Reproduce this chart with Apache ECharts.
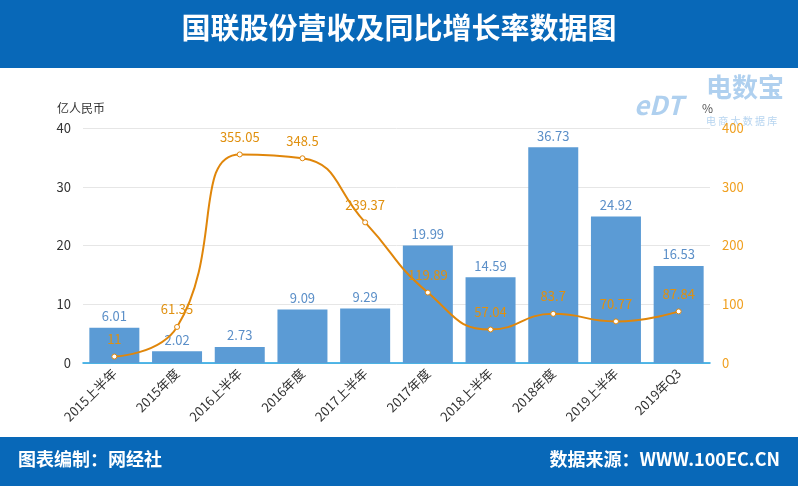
<!DOCTYPE html>
<html>
<head>
<meta charset="utf-8">
<script src="https://cdn.jsdelivr.net/npm/echarts@6/dist/echarts.min.js"></script>
<style>
    html, body { margin: 0; padding: 0; background: #fff; }
    #chart { width: 798px; height: 486px; }
</style>
</head>
<body>
<div id="chart"></div>
<script>
    // 数据
    var categories = ['2015上半年', '2015年度', '2016上半年', '2016年度', '2017上半年', '2017年度', '2018上半年', '2018年度', '2019上半年', '2019年Q3'];
    var revenue = [6.01, 2.02, 2.73, 9.09, 9.29, 19.99, 14.59, 36.73, 24.92, 16.53];
    var growth = [11, 61.35, 355.05, 348.5, 239.37, 119.89, 57.04, 83.7, 70.77, 87.84];
    var leftTicks = [0, 10, 20, 30, 40];
    var rightTicks = [0, 100, 200, 300, 400];

    var font = '"Noto Sans CJK SC", "Microsoft YaHei", sans-serif';
    var myChart = echarts.init(document.getElementById('chart'));

    myChart.setOption({
        backgroundColor: '#fff',
        textStyle: { fontFamily: font },
        graphic: [
            { type: 'rect', left: 0, top: 0, shape: { width: 798, height: 68 }, style: { fill: '#0868b8' }, z: 0 },
            { type: 'rect', left: 0, top: 437, shape: { width: 798, height: 49 }, style: { fill: '#0868b8' }, z: 0 },
            { type: 'text', left: 'center', top: 13, style: { text: '国联股份营收及同比增长率数据图', fill: '#fff', font: 'bold 29px ' + font } },
            { type: 'text', left: 18, top: 450, style: { text: '图表编制：网经社', fill: '#fff', font: 'bold 18px ' + font } },
            { type: 'text', right: 18, top: 450, style: { text: '数据来源：WWW.100EC.CN', fill: '#fff', font: 'bold 18px ' + font } },
            // 水印
            { type: 'text', left: 634, top: 92, style: { text: 'eDT', fill: 'rgba(110,170,225,0.55)', font: 'bold italic 26px ' + font } },
            { type: 'text', left: 706, top: 74, style: { text: '电数宝', fill: 'rgba(110,170,225,0.55)', font: 'bold 26px ' + font } },
            { type: 'text', left: 706, top: 116, style: { text: '电 商 大 数 据 库', fill: 'rgba(110,170,225,0.5)', font: '10px ' + font } }
        ],
        grid: {
            left: 83,
            right: 88,
            top: 128,
            bottom: 123
        },
        xAxis: {
            type: 'category',
            data: categories,
            axisLine: { lineStyle: { color: '#1ba1e2', width: 1.5 } },
            axisTick: { show: false },
            axisLabel: { rotate: 45, color: '#333', fontSize: 13, interval: 0, margin: 8 }
        },
        yAxis: [{
            type: 'value',
            name: '亿人民币',
            nameGap: 14,
            nameTextStyle: { color: '#333', fontSize: 12, align: 'right', padding: [0, -22, 0, 0] },
            min: leftTicks[0],
            max: leftTicks[leftTicks.length - 1],
            interval: 10,
            axisLine: { show: false },
            axisTick: { show: false },
            axisLabel: { color: '#333', fontSize: 13, margin: 12 },
            splitLine: { show: true, lineStyle: { color: '#e6e6e6' } }
        }, {
            type: 'value',
            name: '%',
            nameGap: 14,
            nameTextStyle: { color: '#555', fontSize: 12, align: 'left', padding: [0, 0, 0, -8] },
            min: rightTicks[0],
            max: rightTicks[rightTicks.length - 1],
            interval: 100,
            axisLine: { show: false },
            axisTick: { show: false },
            axisLabel: { color: '#f0a020', fontSize: 13, margin: 12 },
            splitLine: { show: false }
        }],
        series: [{
            name: '营收',
            type: 'bar',
            data: revenue,
            barWidth: 50,
            itemStyle: { color: '#5b9bd5' },
            label: { show: true, position: 'top', color: '#5b8fc8', fontSize: 13 }
        }, {
            name: '同比增长率',
            type: 'line',
            yAxisIndex: 1,
            data: growth,
            smooth: true,
            symbol: 'circle',
            symbolSize: 5,
            lineStyle: { color: '#e0860a', width: 2 },
            itemStyle: { color: '#fff', borderColor: '#e0860a', borderWidth: 1 },
            label: { show: true, position: 'top', color: '#e0900f', fontSize: 13, distance: 8 }
        }]
    });
</script>
</body>
</html>
